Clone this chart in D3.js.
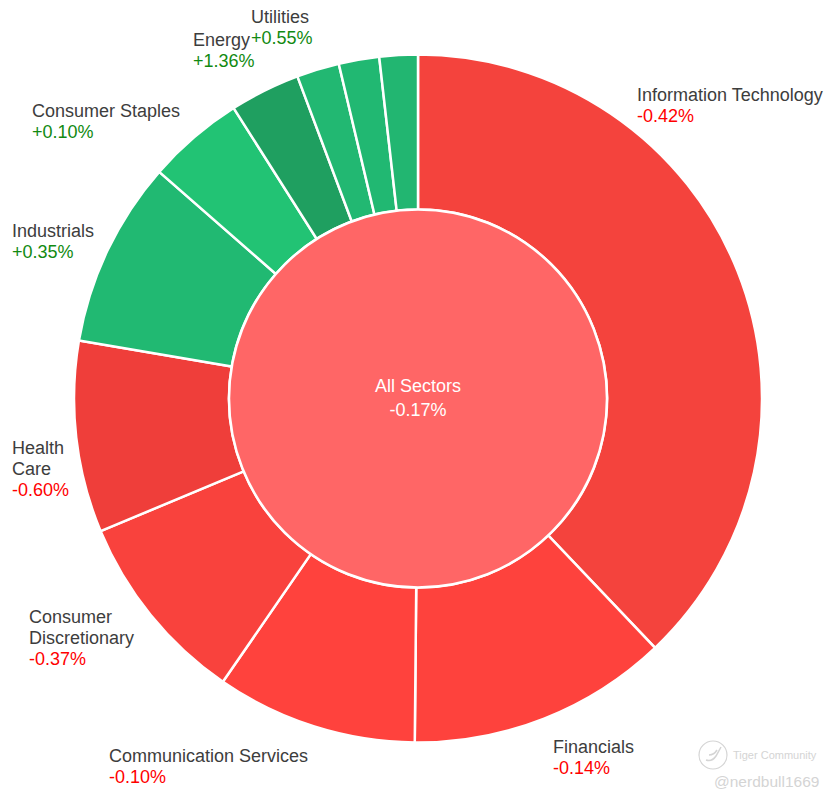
<!DOCTYPE html>
<html>
<head>
<meta charset="utf-8">
<title>Sector performance</title>
<script src="https://cdnjs.cloudflare.com/ajax/libs/d3/7.8.5/d3.min.js"></script>
<style>
  html, body { margin: 0; padding: 0; background: #fff; }
  svg { display: block; }
  text { font-family: "Liberation Sans", Arial, sans-serif; }
</style>
</head>
<body>
<script>
// label lines, "" means the slice has no label in the picture
const sectors = ["Information Technology", "Financials", "Communication Services", "Consumer Discretionary",
  "Health Care", "Industrials", "Consumer Staples", "Energy", "", "", "Utilities"];
// share of the ring, in percent
const weights = [37.9, 12.25, 9.45, 9.1, 9.0, 8.75, 4.55, 3.3, 2.0, 1.9, 1.8];
// daily change, in percent (the two unlabelled values are estimates from the colour)
const changes = [-0.42, -0.14, -0.10, -0.37, -0.60, 0.35, 0.10, 1.36, 0.45, 0.40, 0.55];
const totalLabel = "All Sectors";
const totalChange = -0.17;

const labelX = [637, 553, 109, 29, 12, 12, 32, 193, 0, 0, 251];
const labelY = [101, 753, 762, 623, 454, 237, 117, 46, 0, 0, 23];
const labelWraps = { "Health Care": ["Health", "Care"], "Consumer Discretionary": ["Consumer", "Discretionary"] };

let width, height, cx, cy, rOuter, rInner;
let svg = null;
let fill = null;

main();

function main() {
  setupCanvasSize();
  appendSvg("body");
  setupColorScale();
  appendSlices();
  appendCenter();
  appendLabels();
  appendWatermark();
}

function setupCanvasSize() {
  width = 833;
  height = 801;
  cx = 418;
  cy = 398.5;
  rOuter = 344;
  rInner = 189;
}

function appendSvg(domElement) {
  svg = d3.select(domElement).append("svg")
    .attr("width", width)
    .attr("height", height);
}

function setupColorScale() {
  fill = d3.scaleLinear()
    .domain([-0.6, -0.42, -0.37, -0.1, 0.1, 0.35, 0.55, 1.36])
    .range(["#ef3e3a", "#f4433d", "#f9423d", "#ff423d", "#22c374", "#21b972", "#22b671", "#1f9f60"]);
}

function appendSlices() {
  const pie = d3.pie().sort(null)(weights);
  const arc = d3.arc().innerRadius(rInner).outerRadius(rOuter);

  svg.append("g")
    .attr("transform", `translate(${cx}, ${cy})`)
    .selectAll("path")
    .data(pie)
    .enter()
    .append("path")
    .attr("d", arc)
    .attr("fill", function (d, i) { return fill(changes[i]); })
    .attr("stroke", "#fff")
    .attr("stroke-width", 2.5);
}

function formatChange(v) {
  return (v > 0 ? "+" : "") + v.toFixed(2) + "%";
}

function appendCenter() {
  svg.append("circle")
    .attr("cx", cx)
    .attr("cy", cy)
    .attr("r", rInner)
    .attr("fill", "#ff6666")
    .attr("stroke", "#fff")
    .attr("stroke-width", 2.5);

  const t = svg.append("text")
    .attr("x", cx)
    .attr("text-anchor", "middle")
    .attr("fill", "#fff")
    .style("font-size", "18px");
  t.append("tspan").attr("x", cx).attr("y", 392).text(totalLabel);
  t.append("tspan").attr("x", cx).attr("y", 416).text(formatChange(totalChange));
}

function appendLabels() {
  sectors.forEach(function (name, i) {
    if (!name) return;
    const lines = labelWraps[name] || [name];
    const g = svg.append("text")
      .attr("x", labelX[i])
      .style("font-size", "18px");
    lines.forEach(function (line, j) {
      g.append("tspan")
        .attr("x", labelX[i])
        .attr("y", labelY[i] + j * 21)
        .attr("fill", "#3d3d3d")
        .text(line);
    });
    g.append("tspan")
      .attr("x", labelX[i])
      .attr("y", labelY[i] + lines.length * 21)
      .attr("fill", changes[i] > 0 ? "#118a11" : "#ff0000")
      .text(formatChange(changes[i]));
  });
}

function appendWatermark() {
  const g = svg.append("g").attr("fill", "#d4d4d4");
  g.append("circle")
    .attr("cx", 713)
    .attr("cy", 755)
    .attr("r", 14)
    .attr("fill", "none")
    .attr("stroke", "#d4d4d4")
    .attr("stroke-width", 1.2);
  // tiger mark inside the ring
  g.append("path")
    .attr("d", "M706 760 Q712 762 716 756 L721 747 M709 755 Q714 755 717 750")
    .attr("fill", "none")
    .attr("stroke", "#d4d4d4")
    .attr("stroke-width", 1.5);
  g.append("text")
    .attr("x", 733)
    .attr("y", 759)
    .style("font-size", "11px")
    .text("Tiger Community");
  g.append("text")
    .attr("x", 714)
    .attr("y", 787)
    .style("font-size", "15.5px")
    .text("@nerdbull1669");
}
</script>
</body>
</html>
